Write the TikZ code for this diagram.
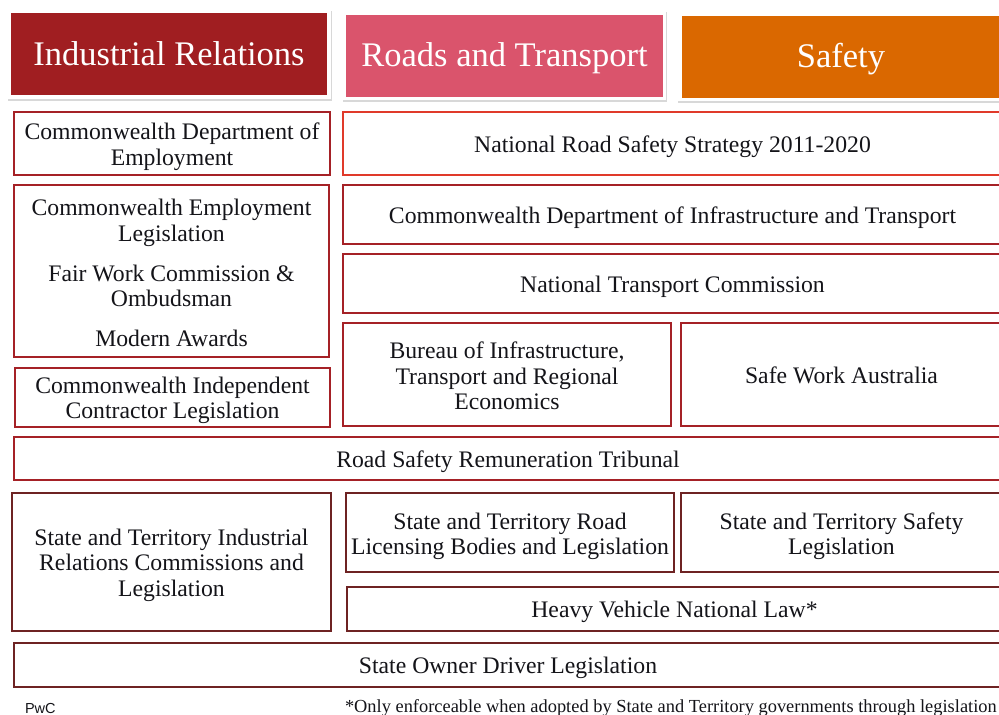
\documentclass[tikz,border=0pt]{standalone}
\usepackage{fontspec}
\setmainfont{Liberation Serif}
\newfontfamily\pwcfont{Liberation Sans}
\usetikzlibrary{shadows}
\definecolor{irfill}{RGB}{160,30,33}
\definecolor{rtfill}{RGB}{218,84,108}
\definecolor{sffill}{RGB}{218,104,0}
\definecolor{bdred}{RGB}{165,33,38}
\definecolor{bdbright}{RGB}{224,58,42}
\definecolor{bdbrown}{RGB}{110,35,35}
\definecolor{txt}{RGB}{20,20,25}
\newcommand\lnstrut[1]{\rule[-4.9pt]{0pt}{#1}}
\tikzset{
  bx/.style={draw=#1, line width=2.6pt, fill=white, rectangle, inner sep=0pt, outer sep=0pt,
    align=center, text=txt, font=\fontsize{23.7}{25.5}\selectfont,
    execute at begin node=\lnstrut{27.5pt}, execute at end node=\lnstrut{25.5pt}},
  tx/.style={inner sep=0pt, outer sep=0pt, align=center, text=txt,
    font=\fontsize{23.7}{25.5}\selectfont, yshift=-#1},
  tx/.default=3.5pt,
  hframe/.style={rectangle, fill=white, inner sep=0pt, outer sep=0pt,
    drop shadow={shadow xshift=1.2pt, shadow yshift=-1.8pt, fill=black!25, opacity=0.6}},
  hfill/.style={rectangle, fill=#1, inner sep=0pt, outer sep=0pt, text=white,
    font=\fontsize{34.5}{36}\selectfont, text height=24pt, text depth=1.2pt},
  foot/.style={inner sep=0pt, outer sep=0pt, text=txt}
}
\begin{document}
\begin{tikzpicture}[x=1pt,y=-1pt]
\useasboundingbox (0,0) rectangle (999,715);
\clip (0,0) rectangle (999,715);
\fill[white] (0,0) rectangle (999,715);
% headers
\node[hframe, minimum width=324pt, minimum height=90pt] (fIR) at (169,54) {};
\node[hfill=irfill, minimum width=316pt, minimum height=82pt] (hIR) at (169,54) {Industrial Relations};
\node[hframe, minimum width=324pt, minimum height=90pt] (fRT) at (504,55) {};
\node[hfill=rtfill, minimum width=317pt, minimum height=82pt] (hRT) at (504.5,55.5) {Roads and Transport};
\node[hframe, minimum width=330pt, minimum height=90pt] (fSF) at (842,56) {};
\node[hfill=sffill, minimum width=318pt, minimum height=82pt] (hSF) at (841,56.5) {Safety};
% single-line boxes
\node[bx=bdbright, minimum width=659pt, minimum height=63pt] (nrss) at (672.5,143.5) {National Road Safety Strategy 2011-2020};
\node[bx=bdred, minimum width=659pt, minimum height=59pt] (cdit) at (672.5,214.5) {Commonwealth Department of Infrastructure and Transport};
\node[bx=bdred, minimum width=659pt, minimum height=59pt] (ntc) at (672.5,283.5) {National Transport Commission};
\node[bx=bdred, minimum width=321pt, minimum height=103pt] (swa) at (841.5,374.5) {Safe Work Australia};
\node[bx=bdred, minimum width=988pt, minimum height=43pt] (rsrt) at (508,458.5) {Road Safety Remuneration Tribunal};
\node[bx=bdbrown, minimum width=655pt, minimum height=44pt] (hvnl) at (674.5,609) {Heavy Vehicle National Law*};
\node[bx=bdbrown, minimum width=988pt, minimum height=44pt] (sodl) at (508,665) {State Owner Driver Legislation};
% multi-line boxes
\node[bx=bdred, minimum width=316pt, minimum height=63pt] (empl) at (172,143.5) {};
\node[tx=3pt] (empl-t) at (empl.center) {Commonwealth Department of\\Employment};
\node[bx=bdred, minimum width=315pt, minimum height=172pt] (cel) at (171.5,271) {};
\node[tx=2pt] (cel-t) at (cel.center) {Commonwealth Employment\\Legislation\\[14.5pt]Fair Work Commission \&\\Ombudsman\\[14.5pt]Modern Awards};
\node[bx=bdred, minimum width=315pt, minimum height=59pt] (cicl) at (172.5,397.5) {};
\node[tx=3pt] (cicl-t) at (cicl.center) {Commonwealth Independent\\Contractor Legislation};
\node[bx=bdred, minimum width=328pt, minimum height=103pt] (bur) at (507,374.5) {};
\node[tx=1.7pt] (bur-t) at (bur.center) {Bureau of Infrastructure,\\Transport and Regional\\Economics};
\node[bx=bdbrown, minimum width=319pt, minimum height=138pt] (stir) at (171.5,562) {};
\node[tx=3pt] (stir-t) at (stir.center) {State and Territory Industrial\\Relations Commissions and\\Legislation};
\node[bx=bdbrown, minimum width=328pt, minimum height=79pt] (strl) at (510,532.5) {};
\node[tx=4pt] (strl-t) at (strl.center) {State and Territory Road\\Licensing Bodies and Legislation};
\node[bx=bdbrown, minimum width=321pt, minimum height=79pt] (stsl) at (841.5,532.5) {};
\node[tx=3.5pt] (stsl-t) at (stsl.center) {State and Territory Safety\\Legislation};
% footer
\node[foot, anchor=base west, font=\pwcfont\fontsize{14.5}{16}\selectfont] (pwc) at (25,713) {PwC};
\node[foot, anchor=base west, font=\fontsize{18.4}{20}\selectfont] (note) at (345,712) {*Only enforceable when adopted by State and Territory governments through legislation};
\end{tikzpicture}
\end{document}
